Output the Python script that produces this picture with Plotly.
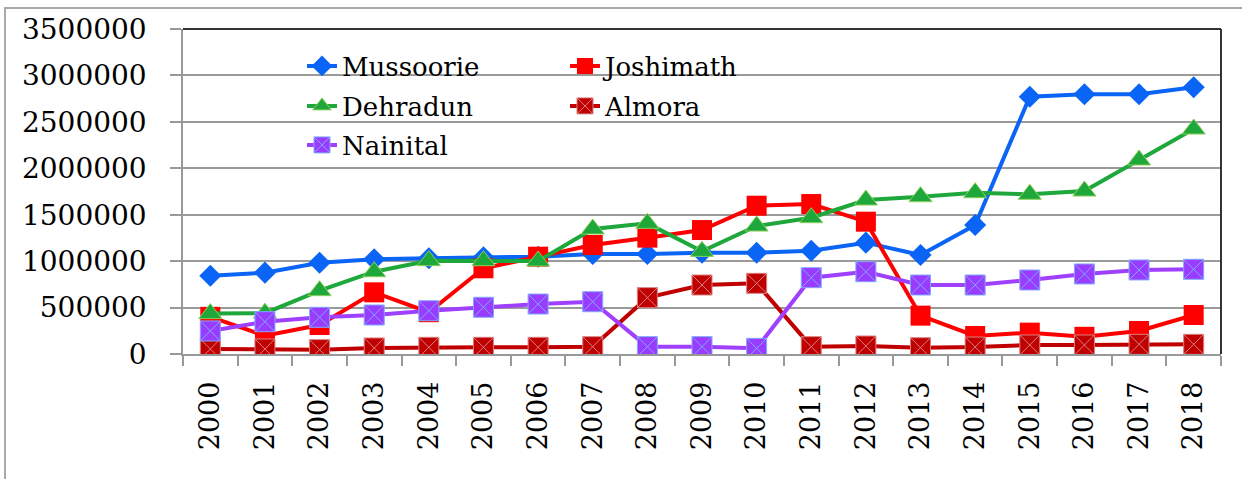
import plotly.graph_objects as go

years = [str(y) for y in range(2000, 2019)]
mussoorie = [843000, 876000, 983000, 1020000, 1031000, 1041000, 1048000, 1077000, 1077000, 1091000,
             1091000, 1112000, 1199000, 1066000, 1389000, 2771000, 2797000, 2797000, 2872000]
joshimath = [400000, 197000, 312000, 664000, 450000, 923000, 1048000, 1174000, 1253000, 1335000,
             1597000, 1615000, 1425000, 413000, 194000, 230000, 185000, 248000, 420000]
dehradun = [435000, 440000, 682000, 886000, 1005000, 1005000, 1001000, 1346000, 1407000, 1105000,
            1378000, 1468000, 1658000, 1694000, 1737000, 1720000, 1755000, 2089000, 2423000]
almora = [54000, 54000, 47000, 65000, 72000, 72000, 72000, 79000, 607000, 743000,
          761000, 79000, 86000, 68000, 75000, 97000, 97000, 104000, 104000]
nainital = [248000, 348000, 395000, 420000, 466000, 503000, 538000, 563000, 79000, 79000,
            61000, 822000, 886000, 743000, 743000, 797000, 862000, 905000, 912000]
y_ticks = [0, 500000, 1000000, 1500000, 2000000, 2500000, 3000000, 3500000]

FONT = "DejaVu Serif"
W, H = 1242, 479
ML, MR, MT, MB = 183, 21, 29, 125
PW, PH = W - ML - MR, H - MT - MB

def px(x):
    return (x - ML) / PW

def py(y):
    return 1 - (y - MT) / PH

fig = go.Figure()
fig.add_trace(go.Scatter(x=years, y=mussoorie, name="Mussoorie", mode="lines+markers",
                         line=dict(color="#0A64F5", width=4),
                         marker=dict(symbol="diamond", size=17, color="#0A64F5"),
                         legend="legend"))
fig.add_trace(go.Scatter(x=years, y=joshimath, name="Joshimath", mode="lines+markers",
                         line=dict(color="#FF0000", width=4),
                         marker=dict(symbol="square", size=20, color="#FF0000"),
                         legend="legend"))
fig.add_trace(go.Scatter(x=years, y=dehradun, name="Dehradun", mode="lines+markers",
                         line=dict(color="#1EA83C", width=4),
                         marker=dict(symbol="triangle-up", size=20, color="#1EA83C",
                                     line=dict(color="#8BCF5A", width=1)),
                         legend="legend2"))
fig.add_trace(go.Scatter(x=years, y=almora, name="Almora", mode="lines+markers",
                         line=dict(color="#C00000", width=4),
                         marker=dict(symbol="square-x", size=20, color="#C00000",
                                     line=dict(color="#D98080", width=1)),
                         legend="legend2"))
fig.add_trace(go.Scatter(x=years, y=nainital, name="Nainital", mode="lines+markers",
                         line=dict(color="#A040FF", width=4),
                         marker=dict(symbol="square-x", size=20, color="#9A3CFF",
                                     line=dict(color="#7FA8FF", width=1)),
                         legend="legend3"))

leg_common = dict(orientation="h", xanchor="left", yanchor="middle",
                  bgcolor="rgba(0,0,0,0)", font=dict(family=FONT, size=26, color="#000"),
                  entrywidth=218, entrywidthmode="pixels", traceorder="normal",
                  itemwidth=30, tracegroupgap=0)

fig.update_layout(
    width=W, height=H,
    margin=dict(l=ML, r=MR, t=MT, b=MB, autoexpand=False),
    paper_bgcolor="white", plot_bgcolor="white",
    font=dict(family=FONT, color="#000"),
    legend=dict(x=px(302), y=py(66), **leg_common),
    legend2=dict(x=px(302), y=py(106), **leg_common),
    legend3=dict(x=px(302), y=py(145), **leg_common),
    xaxis=dict(type="category", categoryorder="array", categoryarray=years,
               tickangle=-90, tickfont=dict(family=FONT, size=27, color="#000"),
               ticks="outside", ticklen=10, tickcolor="#999", tickwidth=1.5,
               tickson="boundaries", showgrid=False, automargin=False,
               showline=True, linecolor="#999", linewidth=1.5,
               ticklabelstandoff=15, range=[-0.5, 18.5]),
    yaxis=dict(range=[0, 3500000], tickvals=y_ticks, ticktext=[str(v) for v in y_ticks],
               tickfont=dict(family=FONT, size=28, color="#000"),
               ticks="outside", ticklen=11, tickcolor="#999", tickwidth=1.5,
               showgrid=True, gridcolor="#9A9A9A", gridwidth=1.5, automargin=False,
               showline=True, linecolor="#999", linewidth=1.5,
               zeroline=False, ticklabelstandoff=18),
    shapes=[
        dict(type="line", xref="paper", yref="paper", x0=0, x1=1, y0=1, y1=1,
             line=dict(color="#333", width=2)),
        dict(type="line", xref="paper", yref="paper", x0=1, x1=1, y0=0, y1=1,
             line=dict(color="#333", width=2)),
        dict(type="rect", xref="paper", yref="paper", x0=px(5), x1=px(1260),
             y0=py(500), y1=py(8), line=dict(color="#AAAAAA", width=2),
             fillcolor="rgba(0,0,0,0)", layer="below"),
    ],
)

fig.write_html("out.html", config={"displayModeBar": False},
               post_script="document.body.style.margin='0';")
